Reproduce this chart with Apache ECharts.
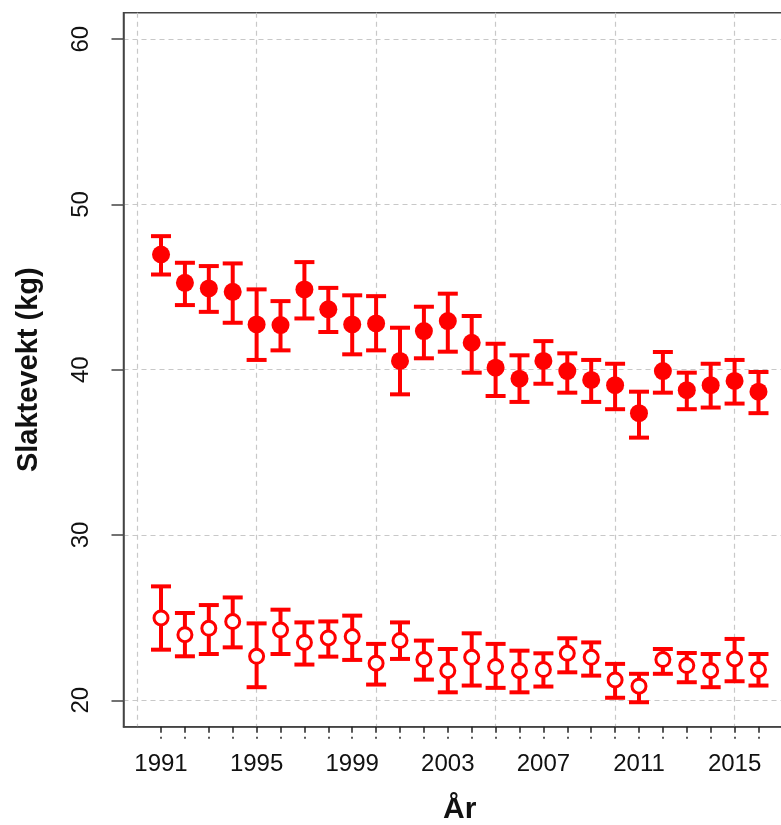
<!DOCTYPE html>
<html>
<head>
<meta charset="utf-8">
<script src="https://cdn.jsdelivr.net/npm/echarts@6/dist/echarts.min.js"></script>
<style>
  html, body { margin: 0; padding: 0; background: #fff; }
  #chart { width: 781px; height: 825px; }
</style>
</head>
<body>
<div id="chart"></div>
<script>
// aar 1991-2016
var years = [1991, 1992, 1993, 1994, 1995, 1996, 1997, 1998, 1999, 2000, 2001, 2002, 2003,
  2004, 2005, 2006, 2007, 2008, 2009, 2010, 2011, 2012, 2013, 2014, 2015, 2016];

// fylte punkt (oeverste gruppe)
var upperMean = [46.97, 45.26, 44.92, 44.71, 42.74, 42.70, 44.86, 43.65, 42.74, 42.80, 40.53, 42.34, 42.94,
  41.63, 40.12, 39.46, 40.53, 39.92, 39.38, 39.06, 37.37, 39.92, 38.76, 39.06, 39.32, 38.67];
var upperLow = [45.76, 43.91, 43.50, 42.84, 40.59, 41.17, 43.10, 42.28, 40.93, 41.17, 38.51, 40.69, 41.09,
  39.82, 38.41, 38.05, 39.15, 38.61, 38.05, 37.61, 35.89, 38.61, 37.61, 37.71, 37.95, 37.37];
var upperHigh = [48.08, 46.47, 46.27, 46.43, 44.86, 44.15, 46.51, 44.95, 44.50, 44.45, 42.54, 43.81, 44.60,
  43.25, 41.57, 40.87, 41.73, 40.99, 40.59, 40.36, 38.67, 41.07, 39.82, 40.36, 40.59, 39.86];

// aapne punkt (nederste gruppe)
var lowerMean = [24.98, 23.97, 24.35, 24.76, 22.66, 24.25, 23.50, 23.77, 23.85, 22.24, 23.61, 22.46, 21.79,
  22.60, 22.04, 21.79, 21.86, 22.84, 22.60, 21.23, 20.85, 22.46, 22.10, 21.79, 22.50, 21.86];
var lowerLow = [23.06, 22.66, 22.80, 23.20, 20.79, 22.80, 22.16, 22.64, 22.44, 20.95, 22.50, 21.25, 20.48,
  20.89, 20.75, 20.48, 20.83, 21.69, 21.49, 20.15, 19.88, 21.60, 21.09, 20.79, 21.15, 20.89];
var lowerHigh = [26.89, 25.28, 25.76, 26.22, 24.65, 25.48, 24.71, 24.77, 25.12, 23.41, 24.71, 23.61, 23.10,
  24.05, 23.41, 23.00, 22.84, 23.75, 23.50, 22.20, 21.60, 23.10, 22.86, 22.80, 23.71, 22.80];

var xLabels = [1991, 1995, 1999, 2003, 2007, 2011, 2015];
var xGrid = [1990, 1995, 2000, 2005, 2010, 2015];
var yTicks = [20, 30, 40, 50, 60];

var red = '#ff0000';
var font = 'Liberation Sans, Arial, sans-serif';

function zipRange(lo, hi) {
  return years.map(function (y, i) { return [y, lo[i], hi[i]]; });
}
function zipPoint(a) {
  return years.map(function (y, i) { return [y, a[i]]; });
}

function renderErr(params, api) {
  var x = api.value(0);
  var lo = api.coord([x, api.value(1)]);
  var hi = api.coord([x, api.value(2)]);
  var w = 10;
  var style = { stroke: red, lineWidth: 4, lineCap: 'butt' };
  return {
    type: 'group',
    children: [
      { type: 'line', shape: { x1: lo[0], y1: lo[1], x2: hi[0], y2: hi[1] }, style: style },
      { type: 'line', shape: { x1: lo[0] - w, y1: lo[1], x2: lo[0] + w, y2: lo[1] }, style: style },
      { type: 'line', shape: { x1: hi[0] - w, y1: hi[1], x2: hi[0] + w, y2: hi[1] }, style: style }
    ]
  };
}

var chart = echarts.init(document.getElementById('chart'));
var option = {
  animation: false,
  backgroundColor: '#fff',
  textStyle: { fontFamily: font },
  grid: {
    left: 123.5, top: 12.7, width: 672.5, height: 714,
    outerBoundsMode: 'none',
    show: true, borderColor: '#444', borderWidth: 1.5, backgroundColor: 'transparent'
  },
  xAxis: [{
    type: 'value', min: 1989.43, max: 2017.57,
    name: 'År', nameLocation: 'middle', nameGap: 68,
    nameTextStyle: { fontSize: 30, fontWeight: 'bold', color: '#111', fontFamily: font },
    axisLine: { show: true, lineStyle: { color: '#444', width: 1.5 } },
    axisTick: { show: true, length: 12, customValues: years,
      lineStyle: { color: '#222', width: 1.5, type: [6, 4] } },
    axisLabel: { customValues: xLabels, margin: 26, fontSize: 24, color: '#111',
      formatter: function (v) { return String(v); } },
    splitLine: { show: false }
  }, {
    type: 'value', min: 1989.43, max: 2017.57, position: 'bottom',
    axisLine: { show: false },
    axisTick: { show: false, customValues: xGrid },
    axisLabel: { show: false, customValues: xGrid },
    splitLine: { show: true, lineStyle: { color: '#c8c8c8', width: 1.2, type: [5, 4] } }
  }],
  yAxis: {
    type: 'value', min: 18.4, max: 61.6,
    name: 'Slaktevekt (kg)', nameLocation: 'middle', nameGap: 80,
    nameTextStyle: { fontSize: 29, fontWeight: 'bold', color: '#111', fontFamily: font },
    axisLine: { show: true, lineStyle: { color: '#444', width: 1.5 } },
    axisTick: { show: true, length: 12, customValues: yTicks,
      lineStyle: { color: '#444', width: 1.5 } },
    axisLabel: { customValues: yTicks, rotate: 90, margin: 30, fontSize: 24, color: '#111' },
    splitLine: { show: true, lineStyle: { color: '#c8c8c8', width: 1.2, type: [5, 4] } }
  },
  series: [
    { type: 'custom', name: 'upperErr', renderItem: renderErr, data: zipRange(upperLow, upperHigh),
      encode: { x: 0, y: [1, 2] }, z: 2 },
    { type: 'custom', name: 'lowerErr', renderItem: renderErr, data: zipRange(lowerLow, lowerHigh),
      encode: { x: 0, y: [1, 2] }, z: 2 },
    { type: 'scatter', name: 'upper', data: zipPoint(upperMean), symbol: 'circle', symbolSize: 18,
      itemStyle: { color: red, opacity: 1 }, z: 3 },
    { type: 'scatter', name: 'lower', data: zipPoint(lowerMean), symbol: 'circle', symbolSize: 14,
      itemStyle: { color: '#fff', borderColor: red, borderWidth: 3, opacity: 1 }, z: 3 }
  ]
};
chart.setOption(option);
</script>
</body>
</html>
